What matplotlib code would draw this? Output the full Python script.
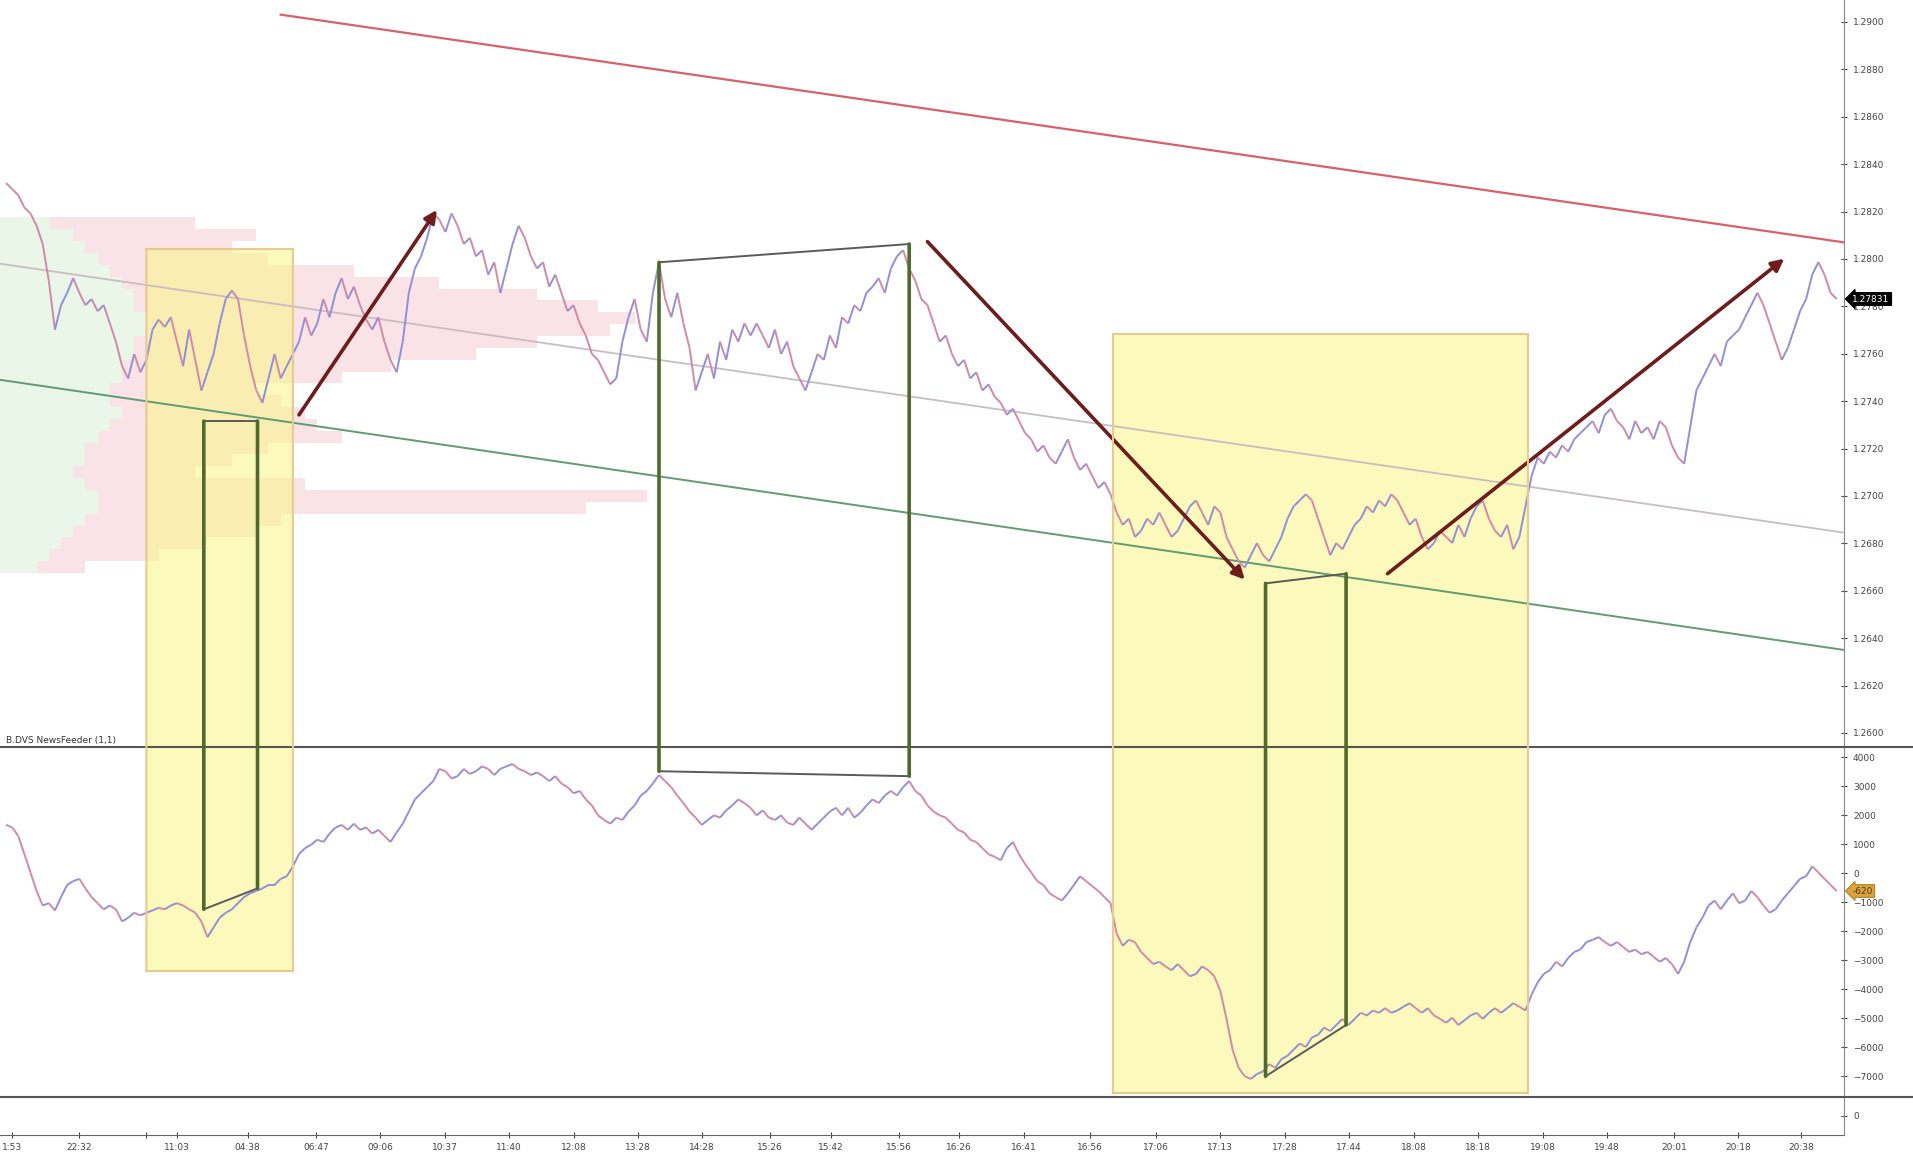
import matplotlib
matplotlib.use("Agg")
import matplotlib.pyplot as plt
from matplotlib.collections import LineCollection
from matplotlib.patches import Rectangle, ConnectionPatch
from matplotlib.lines import Line2D
import numpy as np

# price (top panel), one value per bar
price = [
    1.28320, 1.28295, 1.28269, 1.28217, 1.28192, 1.28140, 1.28063, 1.27908, 1.27702, 1.27805,
    1.27857, 1.27919, 1.27857, 1.27805, 1.27831, 1.27780, 1.27805, 1.27728, 1.27651, 1.27548,
    1.27496, 1.27599, 1.27522, 1.27574, 1.27702, 1.27744, 1.27713, 1.27754, 1.27651, 1.27548,
    1.27702, 1.27574, 1.27445, 1.27522, 1.27599, 1.27728, 1.27831, 1.27867, 1.27831, 1.27677,
    1.27548, 1.27445, 1.27393, 1.27496, 1.27599, 1.27496, 1.27548, 1.27599, 1.27651, 1.27754,
    1.27677, 1.27728, 1.27831, 1.27754, 1.27857, 1.27919, 1.27831, 1.27883, 1.27805, 1.27744,
    1.27702, 1.27754, 1.27651, 1.27574, 1.27522, 1.27651, 1.27857, 1.27960, 1.28011, 1.28089,
    1.28192, 1.28166, 1.28114, 1.28192, 1.28140, 1.28063, 1.28089, 1.28011, 1.28037, 1.27934,
    1.27986, 1.27857, 1.27960, 1.28063, 1.28140, 1.28089, 1.28011, 1.27960, 1.27986, 1.27883,
    1.27934, 1.27857, 1.27780, 1.27805, 1.27728, 1.27677, 1.27599, 1.27574, 1.27522, 1.27471,
    1.27496, 1.27651, 1.27754, 1.27831, 1.27702, 1.27651, 1.27857, 1.27986, 1.27831, 1.27754,
    1.27857, 1.27728, 1.27625, 1.27445, 1.27522, 1.27599, 1.27496, 1.27651, 1.27574, 1.27702,
    1.27651, 1.27728, 1.27677, 1.27728, 1.27677, 1.27625, 1.27702, 1.27599, 1.27651, 1.27548,
    1.27496, 1.27445, 1.27522, 1.27599, 1.27574, 1.27677, 1.27625, 1.27754, 1.27728, 1.27805,
    1.27780, 1.27857, 1.27883, 1.27919, 1.27857, 1.27960, 1.28011, 1.28037, 1.27960, 1.27908,
    1.27831, 1.27805, 1.27728, 1.27651, 1.27677, 1.27599, 1.27548, 1.27574, 1.27496, 1.27522,
    1.27445, 1.27471, 1.27419, 1.27393, 1.27342, 1.27368, 1.27316, 1.27265, 1.27239, 1.27187,
    1.27213, 1.27162, 1.27136, 1.27187, 1.27239, 1.27162, 1.27110, 1.27136, 1.27084, 1.27033,
    1.27059, 1.27007, 1.26930, 1.26878, 1.26904, 1.26827, 1.26853, 1.26904, 1.26878, 1.26930,
    1.26878, 1.26827, 1.26853, 1.26904, 1.26956, 1.26981, 1.26930, 1.26878, 1.26956, 1.26930,
    1.26827, 1.26775, 1.26724, 1.26698, 1.26750, 1.26801, 1.26750, 1.26724, 1.26775, 1.26827,
    1.26904, 1.26956, 1.26981, 1.27007, 1.26981, 1.26904, 1.26827, 1.26750, 1.26801, 1.26775,
    1.26827, 1.26878, 1.26904, 1.26956, 1.26930, 1.26981, 1.26956, 1.27007, 1.26981, 1.26930,
    1.26878, 1.26904, 1.26827, 1.26775, 1.26801, 1.26853, 1.26827, 1.26801, 1.26878, 1.26827,
    1.26904, 1.26956, 1.26981, 1.26904, 1.26853, 1.26827, 1.26878, 1.26775, 1.26827, 1.26956,
    1.27084, 1.27162, 1.27136, 1.27187, 1.27162, 1.27213, 1.27187, 1.27239, 1.27265, 1.27290,
    1.27316, 1.27265, 1.27342, 1.27368, 1.27316, 1.27290, 1.27239, 1.27316, 1.27265, 1.27290,
    1.27239, 1.27316, 1.27290, 1.27213, 1.27162, 1.27136, 1.27290, 1.27445, 1.27496, 1.27548,
    1.27599, 1.27548, 1.27651, 1.27677, 1.27702, 1.27754, 1.27805, 1.27857, 1.27805, 1.27728,
    1.27651, 1.27574, 1.27625, 1.27702, 1.27780, 1.27831, 1.27934, 1.27986, 1.27934, 1.27857,
    1.27831,
]

# cumulative delta (lower panel)
delta = [
    1660, 1570, 1280, 650, 20, -620, -1120, -1040, -1290, -830,
    -410, -280, -200, -530, -830, -1040, -1250, -1120, -1250, -1670,
    -1540, -1370, -1460, -1370, -1290, -1200, -1250, -1120, -1040, -1120,
    -1250, -1370, -1670, -2210, -1880, -1540, -1370, -1250, -1040, -830,
    -700, -620, -530, -410, -410, -200, -110, 230, 650, 860,
    980, 1150, 1070, 1360, 1570, 1660, 1490, 1700, 1490, 1570,
    1360, 1490, 1280, 1070, 1400, 1700, 2120, 2540, 2750, 2960,
    3170, 3590, 3510, 3260, 3340, 3590, 3420, 3510, 3680, 3590,
    3380, 3590, 3680, 3760, 3590, 3510, 3380, 3470, 3340, 3170,
    3340, 3090, 2960, 2750, 2830, 2540, 2330, 1990, 1830, 1700,
    1910, 1830, 2120, 2330, 2670, 2830, 3090, 3380, 3170, 2960,
    2670, 2410, 2120, 1910, 1660, 1830, 1990, 1910, 2160, 2330,
    2540, 2410, 2250, 1990, 2160, 1910, 1830, 1990, 1740, 1660,
    1910, 1700, 1490, 1700, 1910, 2120, 2250, 1990, 2250, 1910,
    2080, 2330, 2540, 2410, 2670, 2830, 2670, 2960, 3170, 2830,
    2670, 2330, 2120, 1990, 1910, 1700, 1490, 1400, 1150, 1070,
    860, 650, 560, 440, 860, 1070, 650, 310, 20, -280,
    -410, -700, -830, -950, -700, -410, -110, -280, -450, -620,
    -830, -1040, -2090, -2510, -2300, -2380, -2720, -2930, -3140, -3060,
    -3220, -3350, -3140, -3350, -3560, -3480, -3220, -3350, -3560, -4070,
    -5030, -6090, -6720, -7010, -7100, -6930, -6840, -6590, -6720, -6420,
    -6300, -6090, -5880, -6000, -5670, -5580, -5330, -5450, -5240, -5030,
    -5240, -5030, -4820, -4910, -4740, -4820, -4660, -4820, -4740, -4610,
    -4490, -4660, -4820, -4660, -4910, -5030, -5160, -4990, -5240, -5080,
    -4910, -4820, -5030, -4820, -4660, -4820, -4660, -4490, -4610, -4740,
    -4190, -3770, -3480, -3350, -3060, -3220, -2930, -2720, -2640, -2380,
    -2300, -2210, -2380, -2510, -2380, -2550, -2720, -2640, -2800, -2720,
    -2890, -3060, -2930, -3140, -3480, -3060, -2380, -1880, -1540, -1120,
    -950, -1250, -950, -700, -1040, -950, -620, -830, -1120, -1370,
    -1250, -950, -700, -450, -200, -110, 230, 20, -200, -410,
    -620,
]

# time axis
tick_pos = [1, 12, 23, 28, 39.6, 50.8, 61.3, 71.9, 82.4, 93.1, 103.6, 114, 125.2, 135.2,
            146.3, 156.2, 166.8, 177.6, 188.4, 198.9, 209.6, 220.1, 230.7, 241.2, 251.9,
            262.4, 273.3, 283.8, 294.2]
tick_lbl = ["1:53", "22:32", "", "11:03", "04:38", "06:47", "09:06", "10:37", "11:40", "12:08",
            "13:28", "14:28", "15:26", "15:42", "15:56", "16:26", "16:41", "16:56", "17:06",
            "17:13", "17:28", "17:44", "18:08", "18:18", "19:08", "19:48", "20:01", "20:18",
            "20:38"]
price_ticks = [1.2600, 1.2620, 1.2640, 1.2660, 1.2680, 1.2700, 1.2720, 1.2740, 1.2760,
               1.2780, 1.2800, 1.2820, 1.2840, 1.2860, 1.2880, 1.2900]
delta_ticks = [4000, 3000, 2000, 1000, 0, -1000, -2000, -3000, -4000, -5000, -6000, -7000]

# volume profile on the left (price level, buy part, sell part)
vp_level = [1.2815, 1.2810, 1.2805, 1.2800, 1.2795, 1.2790, 1.2785, 1.2780, 1.2775, 1.2770,
            1.2765, 1.2760, 1.2755, 1.2750, 1.2745, 1.2740, 1.2735, 1.2730, 1.2725, 1.2720,
            1.2715, 1.2710, 1.2705, 1.2700, 1.2695, 1.2690, 1.2685, 1.2680, 1.2675, 1.2670]
vp_buy = [40, 60, 70, 80, 90, 100, 110, 110, 120, 120, 110, 110, 100, 100, 90,
          90, 100, 90, 80, 70, 70, 60, 70, 80, 80, 70, 60, 50, 40, 30]
vp_sell = [120, 150, 120, 140, 200, 260, 330, 380, 400, 380, 330, 280, 220, 180, 120,
           140, 150, 170, 200, 150, 120, 100, 180, 450, 400, 160, 150, 120, 90, 40]

# trend lines (bar, price)
red_line = [(45, 1.29031), (301.2, 1.28070)]
green_line = [(-1, 1.27490), (301.2, 1.26350)]
mid_line = [(-1, 1.27980), (301.2, 1.26845)]
arrows = [((48, 1.27342), (70.6, 1.28207)),
          ((151, 1.28073), (203, 1.26647)),
          ((226.4, 1.26672), (291.4, 1.28001))]
# divergence verticals (bar, price top, delta bottom)
div_x = [32.4, 41.2, 107, 148, 206.4, 219.6]
div_p = [1.27316, 1.27316, 1.27986, 1.28063, 1.26631, 1.26672]
div_d = [-1250, -530, 3510, 3340, -7010, -5240]
# highlighted zones (bar from, bar to, price top, delta bottom)
zones = [(23, 47, 1.28042, -3390), (181.4, 249.4, 1.27682, -7600)]

x = np.arange(len(price))

fig = plt.figure(figsize=(19.13, 11.63), dpi=100)
fig.patch.set_facecolor("white")
W = 1844 / 1913
ax1 = fig.add_axes([0, 0.3577, W, 0.6423])
ax2 = fig.add_axes([0, 0.05675, W, 0.30095])
ax3 = fig.add_axes([0, 0.02408, W, 0.03267])
axp = ax1.twiny()

for ax in (ax1, ax2, ax3):
    ax.set_xlim(-1, 301.2)
    for s in ("left", "top", "bottom"):
        ax.spines[s].set_visible(False)
    ax.spines["right"].set_color("#888888")
    ax.yaxis.tick_right()
    ax.tick_params(axis="y", direction="inout", length=5, labelsize=6.5,
                   colors="#444444", pad=4)
    ax.tick_params(axis="x", bottom=False, labelbottom=False)

ax1.set_ylim(1.259405, 1.290928)
ax1.set_yticks(price_ticks)
ax1.set_yticklabels([f"{v:.4f}" for v in price_ticks])
ax2.set_ylim(-7723, 4346)
ax2.set_yticks(delta_ticks)
ax3.set_ylim(-1, 1)
ax3.set_yticks([0])
ax3.spines["bottom"].set_visible(True)
ax3.spines["bottom"].set_color("#666666")
ax3.set_xticks(tick_pos)
ax3.set_xticklabels(tick_lbl)
ax3.tick_params(axis="x", bottom=True, labelbottom=True, direction="inout", length=5,
                labelsize=6.5, colors="#444444", pad=3)

# volume profile behind everything
axp.set_xlim(0, 1511)
axp.barh(vp_level, vp_buy, height=0.0005, color="#d8efd6", alpha=0.55, lw=0)
axp.barh(vp_level, vp_sell, left=vp_buy, height=0.0005, color="#f7cdd3", alpha=0.55, lw=0)
axp.axis("off")
axp.set_zorder(0)
ax1.set_zorder(1)
ax1.patch.set_visible(False)


def dir_line(ax, xs, ys):
    pts = np.column_stack([xs, ys]).reshape(-1, 1, 2)
    segs = np.concatenate([pts[:-1], pts[1:]], axis=1)
    ys = np.asarray(ys)
    cols = ["#8f8fdb" if b >= a else "#d08aa8" for a, b in zip(ys[:-1], ys[1:])]
    ax.add_collection(LineCollection(segs, colors=cols, linewidths=1.4, zorder=4))


dir_line(ax1, x, price)
dir_line(ax2, x, delta)

# zones
for x0, x1, ptop, dbot in zones:
    ax1.add_patch(Rectangle((x0, ptop), x1 - x0, 1.2594 - ptop, facecolor="#fbf590",
                            alpha=0.6, lw=0, zorder=2))
    ax2.add_patch(Rectangle((x0, dbot), x1 - x0, 4346 - dbot, facecolor="#fbf590",
                            alpha=0.6, lw=0, zorder=2))
    ax1.plot([x0, x1], [ptop, ptop], color="#e9c98e", lw=1.5, zorder=2)
    ax2.plot([x0, x1], [dbot, dbot], color="#e9c98e", lw=1.5, zorder=2)
    for xx in (x0, x1):
        fig.add_artist(ConnectionPatch((xx, ptop), (xx, dbot), coordsA=ax1.transData,
                                       coordsB=ax2.transData, color="#e9c98e", lw=1.5,
                                       zorder=9))

# trend lines
for line, col, lw in ((red_line, "#d9606a", 1.6), (green_line, "#5f9c74", 1.4),
                      (mid_line, "#cbbcc2", 1.3)):
    ax1.plot([line[0][0], line[1][0]], [line[0][1], line[1][1]], color=col, lw=lw, zorder=3)

for (a, b) in arrows:
    ax1.annotate("", xy=b, xytext=a, zorder=6,
                 arrowprops=dict(arrowstyle="-|>", color="#6e1c1c", lw=2.6,
                                 mutation_scale=18, shrinkA=0, shrinkB=0))

# divergence lines
for xx, pp, dd in zip(div_x, div_p, div_d):
    fig.add_artist(ConnectionPatch((xx, pp), (xx, dd), coordsA=ax1.transData,
                                   coordsB=ax2.transData, color="#4f6a2b", lw=2.6,
                                   zorder=10))
for i in (0, 2, 4):
    ax1.plot([div_x[i], div_x[i + 1]], [div_p[i], div_p[i + 1]], color="#5a5a5a", lw=1.4,
             zorder=5)
    ax2.plot([div_x[i], div_x[i + 1]], [div_d[i], div_d[i + 1]], color="#5a5a5a", lw=1.4,
             zorder=5)

# last value tags
ax1.annotate(f"{price[-1]:.5f}", xy=(1.0, price[-1]), xycoords=("axes fraction", "data"),
             xytext=(6, 0), textcoords="offset points", va="center", ha="left",
             fontsize=6.5, color="white", annotation_clip=False,
             bbox=dict(boxstyle="larrow,pad=0.2", fc="black", ec="black"))
ax2.annotate(f"{delta[-1]}", xy=(1.0, delta[-1]), xycoords=("axes fraction", "data"),
             xytext=(6, 0), textcoords="offset points", va="center", ha="left",
             fontsize=6.5, color="#5a3a00", annotation_clip=False,
             bbox=dict(boxstyle="larrow,pad=0.2", fc="#d9a441", ec="#c08a2a"))

ax2.text(0.003, 1.006, "B.DVS NewsFeeder (1,1)", transform=ax2.transAxes, fontsize=6.5,
         color="#333333", va="bottom", ha="left")

# panel separators
for yy in (0.3577, 0.05675):
    fig.add_artist(Line2D([0, 1], [yy, yy], transform=fig.transFigure, color="#555555", lw=1.5))

fig.savefig("out.png", dpi=100)
